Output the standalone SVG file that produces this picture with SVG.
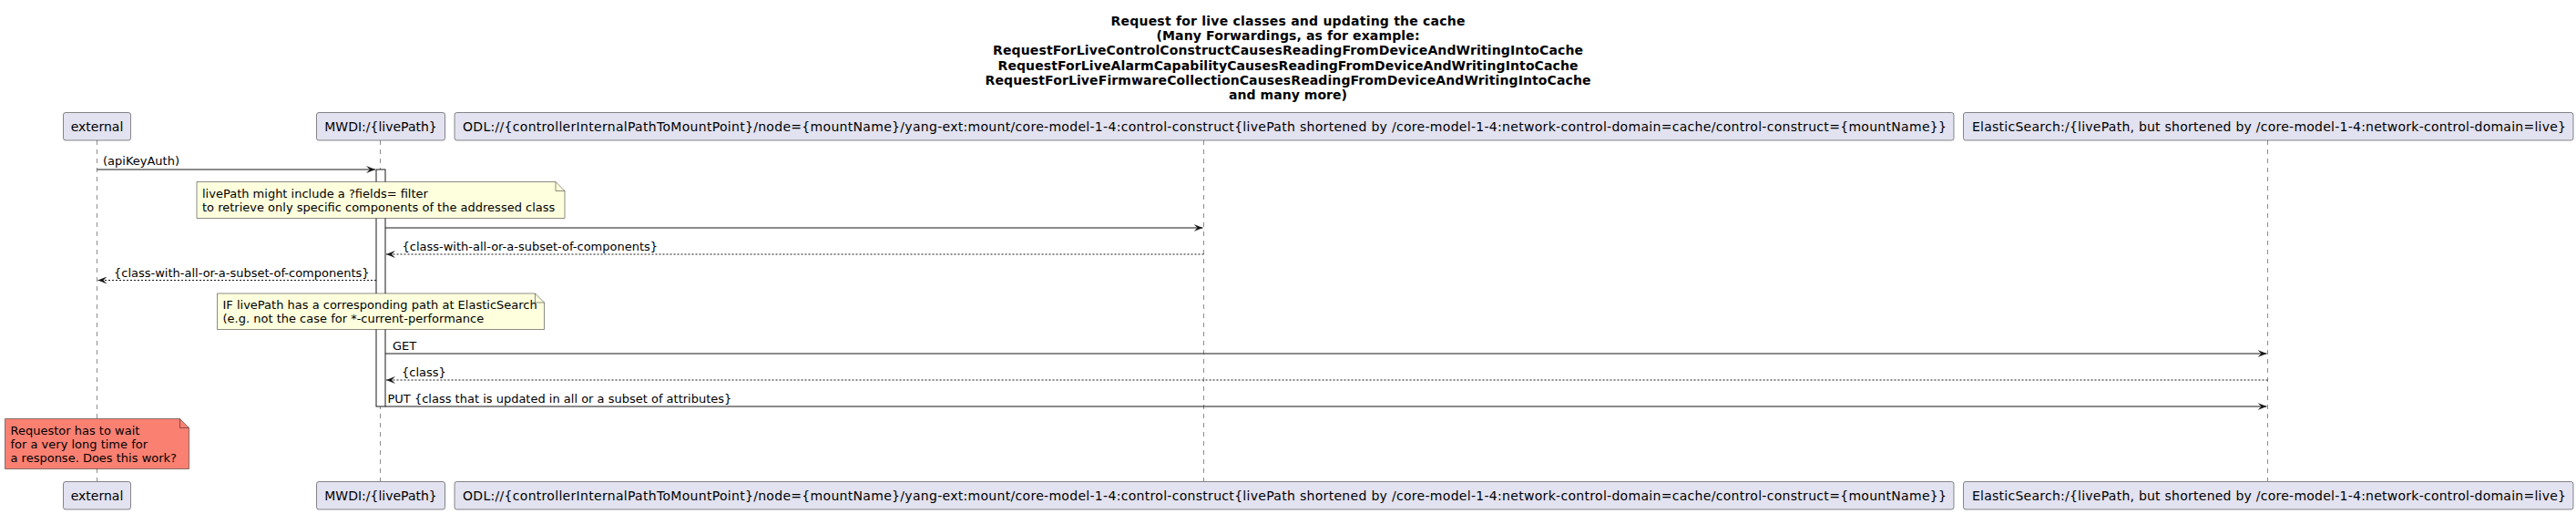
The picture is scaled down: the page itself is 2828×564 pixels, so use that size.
<svg xmlns="http://www.w3.org/2000/svg" width="2828" height="564" viewBox="0 0 2828 564">
<defs>
<style>
.title{font-family:"DejaVu Sans",sans-serif;font-size:14px;font-weight:bold;fill:#000;text-anchor:middle}
.pbox{fill:#E2E2F0;stroke:#181818;stroke-width:0.5}
.ptext{font-family:"DejaVu Sans",sans-serif;font-size:14px;fill:#000;text-anchor:middle}
.life{stroke:#181818;stroke-width:0.5;stroke-dasharray:5,5;fill:none}
.msg{stroke:#181818;stroke-width:1;fill:none}
.ret{stroke:#181818;stroke-width:1;stroke-dasharray:2,2;fill:none}
.mtext{font-family:"DejaVu Sans",sans-serif;font-size:13px;fill:#000}
.note{fill:#FEFFDD;stroke:#181818;stroke-width:0.5}
.rnote{fill:#FA8072;stroke:#181818;stroke-width:0.5}
.fold{fill:none;stroke:#181818;stroke-width:0.5}
.act{fill:#FFFFFF;stroke:#181818;stroke-width:1}
</style>
<marker id="ah" markerWidth="10" markerHeight="8" refX="10" refY="4" orient="auto" markerUnits="userSpaceOnUse">
<path d="M0,0 L10,4 L0,8 L4,4 Z" fill="#181818"/>
</marker>
</defs>
<rect width="2828" height="564" fill="#FFFFFF"/>
<g id="title">
<text class="title" x="1414" y="27.7" textLength="389" lengthAdjust="spacing">Request for live classes and updating the cache</text>
<text class="title" x="1414" y="44" textLength="289" lengthAdjust="spacing">(Many Forwardings, as for example:</text>
<text class="title" x="1414" y="60.3" textLength="648" lengthAdjust="spacing">RequestForLiveControlConstructCausesReadingFromDeviceAndWritingIntoCache</text>
<text class="title" x="1414" y="76.6" textLength="637" lengthAdjust="spacing">RequestForLiveAlarmCapabilityCausesReadingFromDeviceAndWritingIntoCache</text>
<text class="title" x="1414" y="92.9" textLength="665" lengthAdjust="spacing">RequestForLiveFirmwareCollectionCausesReadingFromDeviceAndWritingIntoCache</text>
<text class="title" x="1414" y="109.2" textLength="130" lengthAdjust="spacing">and many more)</text>
</g>
<g id="lifelines">
<line class="life" x1="106.5" y1="154" x2="106.5" y2="528"/>
<line class="life" x1="417.5" y1="154" x2="417.5" y2="528"/>
<line class="life" x1="1321.5" y1="154" x2="1321.5" y2="528"/>
<line class="life" x1="2489.5" y1="154" x2="2489.5" y2="528"/>
</g>
<g id="p-external">
<rect class="pbox" x="69.5" y="123.5" width="74" height="30.5" rx="2.5"/>
<text class="ptext" x="106.5" y="144">external</text>
<rect class="pbox" x="69.5" y="528.5" width="74" height="30.5" rx="2.5"/>
<text class="ptext" x="106.5" y="549">external</text>
</g>
<g id="p-mwdi">
<rect class="pbox" x="347.5" y="123.5" width="141" height="30.5" rx="2.5"/>
<text class="ptext" x="418" y="144">MWDI:/{livePath}</text>
<rect class="pbox" x="347.5" y="528.5" width="141" height="30.5" rx="2.5"/>
<text class="ptext" x="418" y="549">MWDI:/{livePath}</text>
</g>
<g id="p-odl">
<rect class="pbox" x="499" y="123.5" width="1646" height="30.5" rx="2.5"/>
<text class="ptext" x="1322.5" y="144" textLength="1629" lengthAdjust="spacing">ODL://{controllerInternalPathToMountPoint}/node={mountName}/yang-ext:mount/core-model-1-4:control-construct{livePath shortened by /core-model-1-4:network-control-domain=cache/control-construct={mountName}}</text>
<rect class="pbox" x="499" y="528.5" width="1646" height="30.5" rx="2.5"/>
<text class="ptext" x="1322.5" y="549" textLength="1629" lengthAdjust="spacing">ODL://{controllerInternalPathToMountPoint}/node={mountName}/yang-ext:mount/core-model-1-4:control-construct{livePath shortened by /core-model-1-4:network-control-domain=cache/control-construct={mountName}}</text>
</g>
<g id="p-elastic">
<rect class="pbox" x="2155.5" y="123.5" width="669.5" height="30.5" rx="2.5"/>
<text class="ptext" x="2491" y="144" textLength="652" lengthAdjust="spacing">ElasticSearch:/{livePath, but shortened by /core-model-1-4:network-control-domain=live}</text>
<rect class="pbox" x="2155.5" y="528.5" width="669.5" height="30.5" rx="2.5"/>
<text class="ptext" x="2491" y="549" textLength="652" lengthAdjust="spacing">ElasticSearch:/{livePath, but shortened by /core-model-1-4:network-control-domain=live}</text>
</g>
<g id="activation">
<rect class="act" x="413" y="186" width="10" height="260"/>
</g>
<g id="connectors">
<line class="msg" x1="106.5" y1="186" x2="412" y2="186" marker-end="url(#ah)"/>
<text class="mtext" x="113" y="181">(apiKeyAuth)</text>
<line class="msg" x1="423" y1="250" x2="1320.5" y2="250" marker-end="url(#ah)"/>
<line class="ret" x1="1321.5" y1="279" x2="424" y2="279" marker-end="url(#ah)"/>
<text class="mtext" x="441.5" y="275">{class-with-all-or-a-subset-of-components}</text>
<line class="ret" x1="413" y1="307.5" x2="107.5" y2="307.5" marker-end="url(#ah)"/>
<text class="mtext" x="125" y="303.5">{class-with-all-or-a-subset-of-components}</text>
<line class="msg" x1="423" y1="388" x2="2488.5" y2="388" marker-end="url(#ah)"/>
<text class="mtext" x="431" y="383.5">GET</text>
<line class="ret" x1="2489.5" y1="417" x2="424" y2="417" marker-end="url(#ah)"/>
<text class="mtext" x="441" y="412.5">{class}</text>
<line class="msg" x1="423" y1="446" x2="2488.5" y2="446" marker-end="url(#ah)"/>
<text class="mtext" x="425.5" y="441.5">PUT {class that is updated in all or a subset of attributes}</text>
</g>
<g id="note-fields">
<path class="note" d="M216,199.5 L610,199.5 L620,209.5 L620,239.5 L216,239.5 Z"/>
<path class="fold" d="M610,199.5 L610,209.5 L620,209.5"/>
<text class="mtext" x="222" y="216.5">livePath might include a ?fields= filter</text>
<text class="mtext" x="222" y="231.5">to retrieve only specific components of the addressed class</text>
</g>
<g id="note-elastic">
<path class="note" d="M238.5,322 L587.5,322 L597.5,332 L597.5,361.5 L238.5,361.5 Z"/>
<path class="fold" d="M587.5,322 L587.5,332 L597.5,332"/>
<text class="mtext" x="244.5" y="339">IF livePath has a corresponding path at ElasticSearch</text>
<text class="mtext" x="244.5" y="354">(e.g. not the case for *-current-performance</text>
</g>
<g id="note-wait">
<path class="rnote" d="M5.5,459.5 L197.5,459.5 L207.5,469.5 L207.5,514.5 L5.5,514.5 Z"/>
<path class="fold" d="M197.5,459.5 L197.5,469.5 L207.5,469.5"/>
<text class="mtext" x="11.5" y="476.5">Requestor has to wait</text>
<text class="mtext" x="11.5" y="491.7">for a very long time for</text>
<text class="mtext" x="11.5" y="506.9">a response. Does this work?</text>
</g>
</svg>
